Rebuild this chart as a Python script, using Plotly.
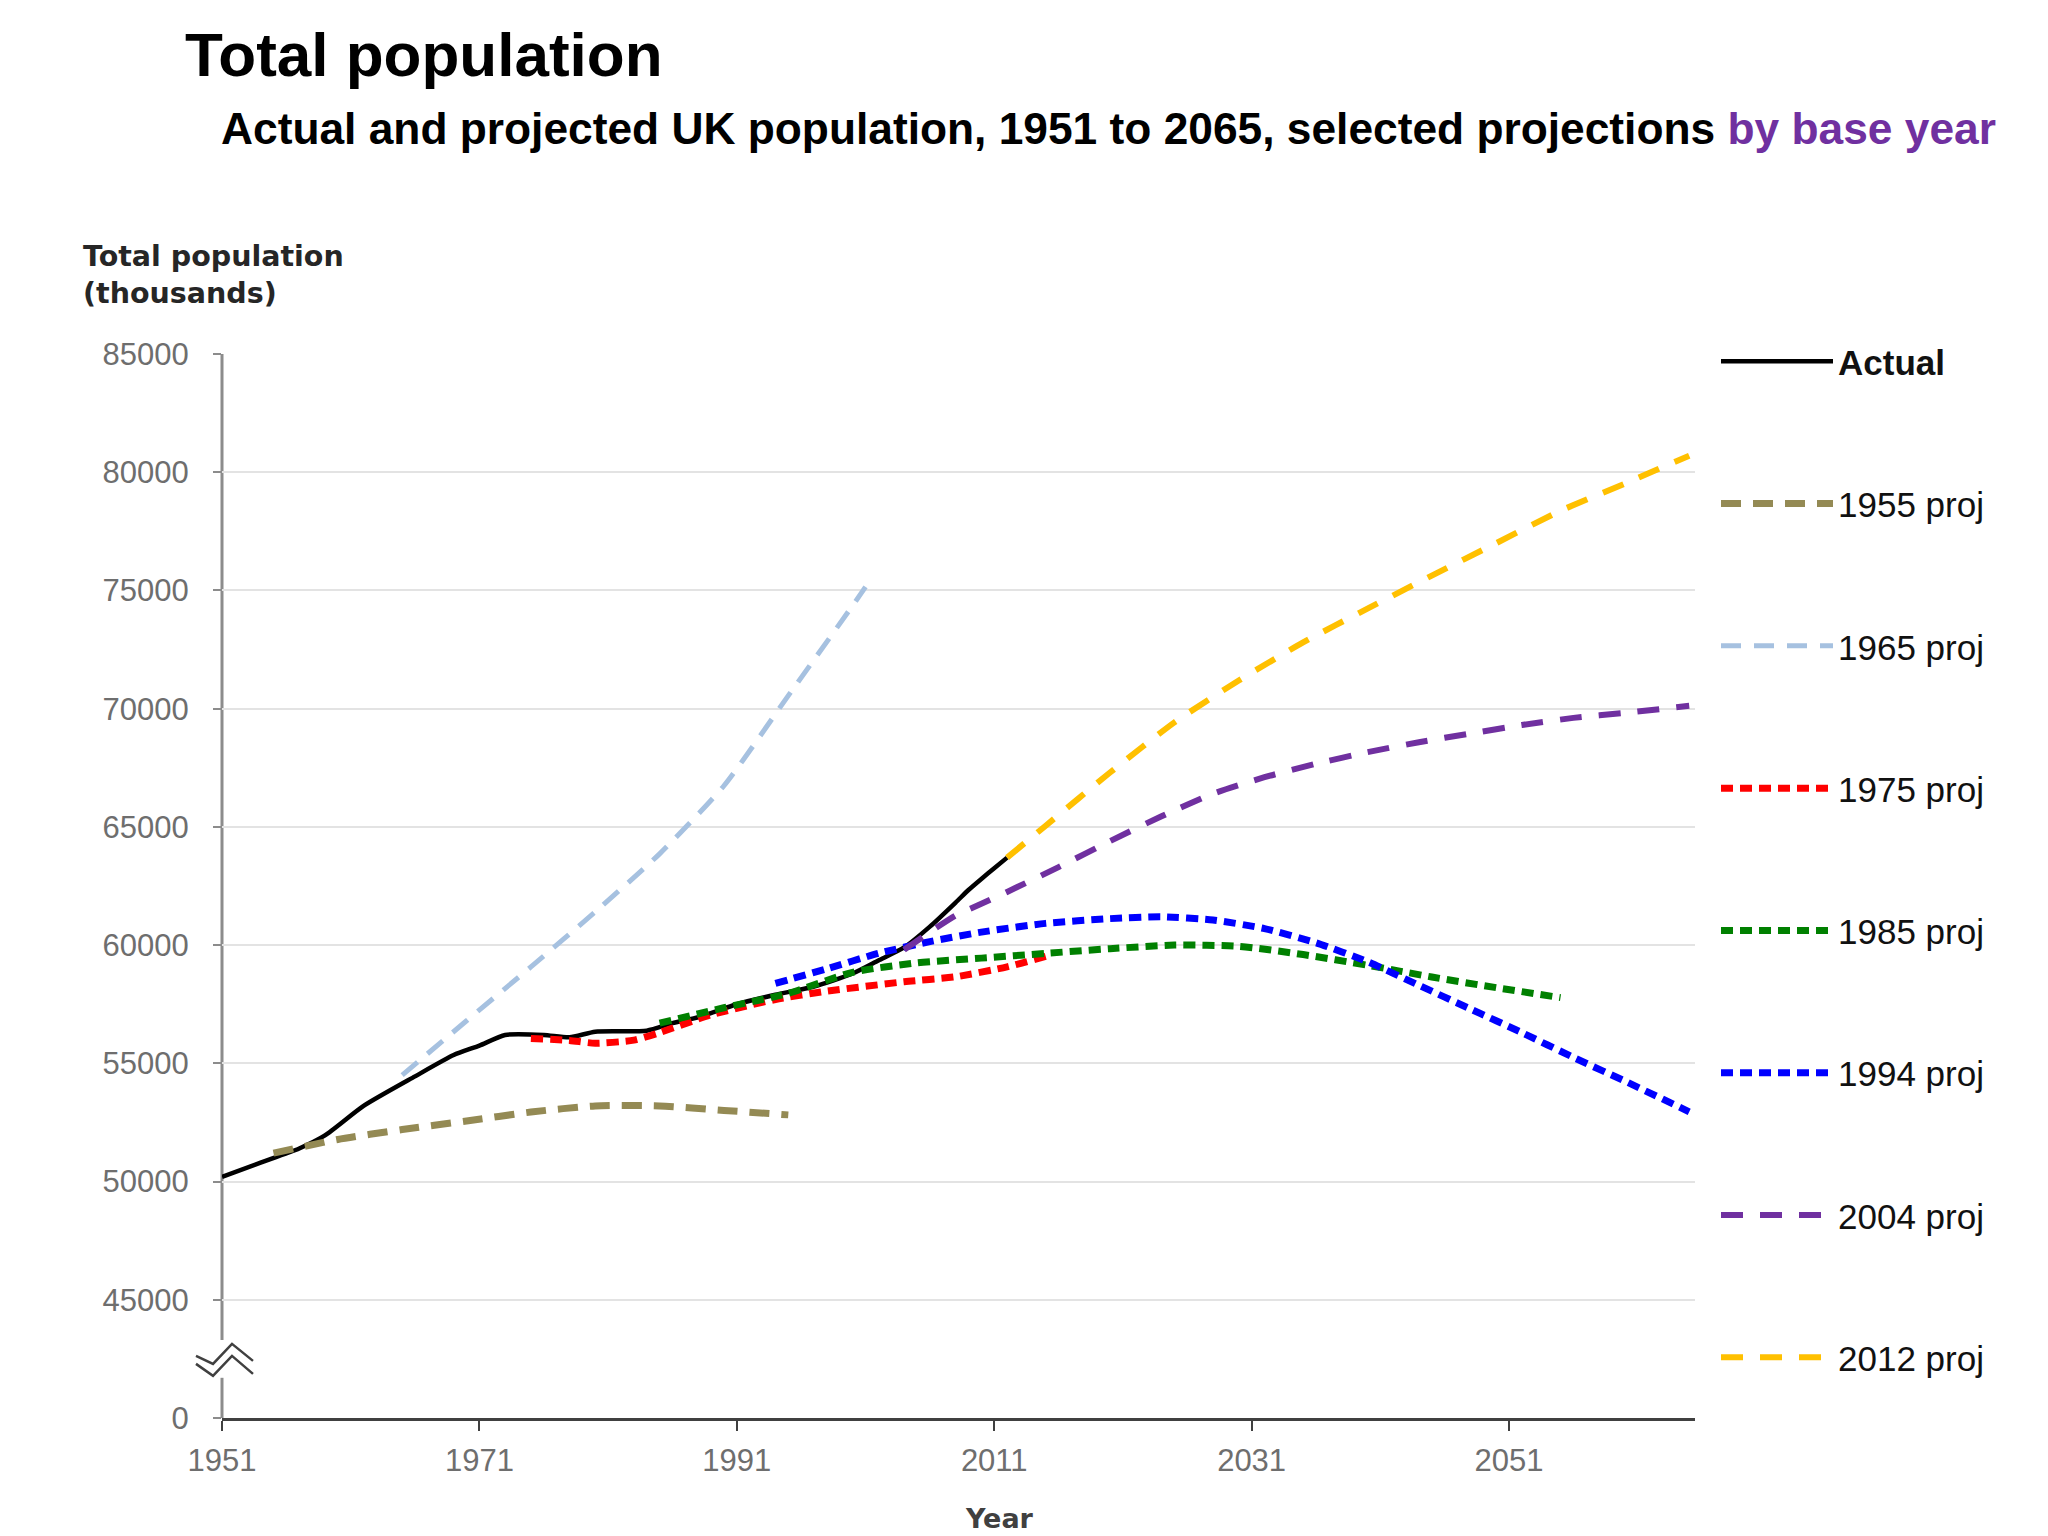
import plotly.graph_objects as go

# ---------------- data (thousands) ----------------
actual_years = [1951, 1954, 1957, 1959, 1962, 1966, 1969, 1971, 1973, 1976, 1978, 1980, 1984,
                1986, 1988, 1991, 1994, 1997, 2000, 2002, 2004, 2006, 2008, 2009, 2010, 2011, 2012]
actual_pop = [50200, 50800, 51400, 51950, 53200, 54450, 55350, 55750, 56200, 56200, 56100, 56340, 56380,
              56700, 56950, 57500, 57900, 58250, 58800, 59350, 59900, 60780, 61800, 62330, 62800, 63250, 63700]

p1955_years = [1955, 1960, 1965, 1970, 1975, 1980, 1985, 1990, 1995]
p1955_pop = [51200, 51780, 52200, 52560, 52940, 53200, 53200, 53010, 52820]

p1965_years = [1965, 1970, 1975, 1980, 1985, 1990, 1995, 2000, 2001]
p1965_pop = [54500, 56800, 59080, 61410, 63860, 66740, 70550, 74360, 75150]

p1975_years = [1975, 1978, 1980, 1983, 1985, 1989, 1994, 1998, 2004, 2008, 2012, 2015]
p1975_pop = [56050, 55970, 55850, 55980, 56300, 57050, 57700, 58050, 58450, 58660, 59080, 59520]

p1985_years = [1985, 1990, 1995, 2000, 2005, 2010, 2015, 2020, 2025, 2030, 2035, 2040, 2045, 2050, 2055]
p1985_pop = [56700, 57350, 57960, 58850, 59250, 59450, 59650, 59850, 60000, 59950, 59600, 59150, 58650, 58200, 57780]

p1994_years = [1994, 1998, 2002, 2006, 2010, 2015, 2020, 2024, 2028, 2032, 2036, 2040, 2044, 2048, 2052, 2056, 2060, 2065]
p1994_pop = [58380, 59000, 59650, 60150, 60550, 60920, 61120, 61200, 61060, 60700, 60100, 59300, 58300, 57300, 56300, 55250, 54250, 52950]

p2004_years = [2004, 2006, 2008, 2010, 2012, 2016, 2020, 2024, 2028, 2032, 2036, 2040, 2044, 2048, 2052, 2056, 2060, 2065]
p2004_pop = [59800, 60550, 61250, 61750, 62250, 63300, 64400, 65450, 66400, 67100, 67670, 68160, 68580, 68950, 69310, 69610, 69820, 70120]

p2012_years = [2012, 2015, 2020, 2025, 2030, 2035, 2040, 2045, 2050, 2055, 2060, 2065]
p2012_pop = [63700, 65050, 67300, 69420, 71190, 72800, 74230, 75630, 77000, 78370, 79520, 80700]

series_names = ["Actual", "1955 proj", "1965 proj", "1975 proj", "1985 proj", "1994 proj", "2004 proj", "2012 proj"]
series_x = [actual_years, p1955_years, p1965_years, p1975_years, p1985_years, p1994_years, p2004_years, p2012_years]
series_y = [actual_pop, p1955_pop, p1965_pop, p1975_pop, p1985_pop, p1994_pop, p2004_pop, p2012_pop]

x_tick_vals = [1951, 1971, 1991, 2011, 2031, 2051]
y_tick_vals = [40000, 45000, 50000, 55000, 60000, 65000, 70000, 75000, 80000, 85000]
y_tick_text = ["0", "45000", "50000", "55000", "60000", "65000", "70000", "75000", "80000", "85000"]

# ---------------- styles ----------------
styles = {
    "Actual":    dict(color="#000000", width=4.5, dash="solid"),
    "1955 proj": dict(color="#948A54", width=7, dash="20px,12px"),
    "1965 proj": dict(color="#A6C1E0", width=5, dash="20px,13px"),
    "1975 proj": dict(color="#FF0000", width=7, dash="12px,7px"),
    "1985 proj": dict(color="#008000", width=7, dash="12px,7px"),
    "1994 proj": dict(color="#0000FF", width=7, dash="12px,7px"),
    "2004 proj": dict(color="#7030A0", width=6, dash="22px,17px"),
    "2012 proj": dict(color="#FFC000", width=6, dash="22px,17px"),
}

L, R, T, B = 222, 353, 354, 118
W, H = 2048, 1536
pw, ph = W - L - R, H - T - B


def px_x(px):
    return (px - L) / pw


def px_y(py):
    return (H - B - py) / ph


fig = go.Figure()
for name, xs, ys in zip(series_names, series_x, series_y):
    st = styles[name]
    label = "<b>Actual</b>" if name == "Actual" else name
    fig.add_trace(go.Scatter(
        x=xs, y=ys, mode="lines", name=label, legendgroup=name,
        line=dict(color=st["color"], width=st["width"], dash=st["dash"], shape="spline", smoothing=0.6),
    ))

grey_txt = "#6E6E6E"
title_font = "Liberation Sans, Arial, sans-serif"
label_font = "DejaVu Sans, Verdana, sans-serif"

fig.update_layout(
    width=W, height=H,
    margin=dict(l=L, r=R, t=T, b=B, autoexpand=False),
    paper_bgcolor="white", plot_bgcolor="white",
    showlegend=True,
    legend=dict(
        x=px_x(1716), xanchor="left", y=px_y(332), yanchor="top",
        font=dict(family=title_font, size=35, color="#111111"),
        itemwidth=112, tracegroupgap=93.8, traceorder="grouped",
        bgcolor="rgba(0,0,0,0)", borderwidth=0, maxheight=1400,
    ),
    xaxis=dict(
        range=[1951, 2065.45], tickvals=x_tick_vals, ticktext=[str(v) for v in x_tick_vals],
        showgrid=False, zeroline=False,
        showline=True, linecolor="#404040", linewidth=3,
        ticks="outside", ticklen=10, tickwidth=2, tickcolor="#404040",
        tickfont=dict(family=title_font, size=31, color=grey_txt),
        ticklabelstandoff=3,
    ),
    yaxis=dict(
        range=[40000, 85000], tickvals=y_tick_vals, ticktext=y_tick_text,
        showgrid=True, gridcolor="#E3E3E3", gridwidth=2, zeroline=False,
        showline=False,
        ticks="outside", ticklen=8, tickwidth=2, tickcolor="#8C8C8C",
        tickfont=dict(family=title_font, size=31, color=grey_txt),
        ticklabelstandoff=18,
    ),
    font=dict(family=title_font),
)

# axis line with break
fig.add_shape(type="line", xref="paper", yref="y", x0=0, x1=0, y0=43300, y1=85000,
              line=dict(color="#8C8C8C", width=3), layer="below")
fig.add_shape(type="line", xref="paper", yref="y", x0=0, x1=0, y0=40000, y1=41700,
              line=dict(color="#8C8C8C", width=3), layer="below")
for p in ["M-26,3 L-9,-5 L10,15 L31,-2", "M-26,-5 L-9,-17 L10,3 L31,-15"]:
    fig.add_shape(type="path", xref="paper", yref="y", xsizemode="pixel", ysizemode="pixel",
                  xanchor=0, yanchor=42500, path=p, line=dict(color="#404040", width=2.5))

# titles
fig.add_annotation(text="<b>Total population</b>", x=px_x(183), y=px_y(55), xref="paper", yref="paper",
                   xanchor="left", yanchor="middle", showarrow=False,
                   font=dict(family=title_font, size=62, color="#000000"))
fig.add_annotation(text="<b>Actual and projected UK population, 1951 to 2065, selected projections "
                        "<span style='color:#7030A0'>by base year</span></b>",
                   x=px_x(219), y=px_y(128), xref="paper", yref="paper",
                   xanchor="left", yanchor="middle", showarrow=False,
                   font=dict(family=title_font, size=44.3, color="#000000"))
fig.add_annotation(text="<b>Total population<br>(thousands)</b>", x=px_x(81), y=px_y(238),
                   xref="paper", yref="paper", xanchor="left", yanchor="top", align="left",
                   showarrow=False, font=dict(family=label_font, size=28.5, color="#262626"))
fig.add_annotation(text="<b>Year</b>", x=px_x(999), y=px_y(1518), xref="paper", yref="paper",
                   xanchor="center", yanchor="middle", showarrow=False,
                   font=dict(family=label_font, size=27, color="#404040"))

fig.write_html("out.html")
